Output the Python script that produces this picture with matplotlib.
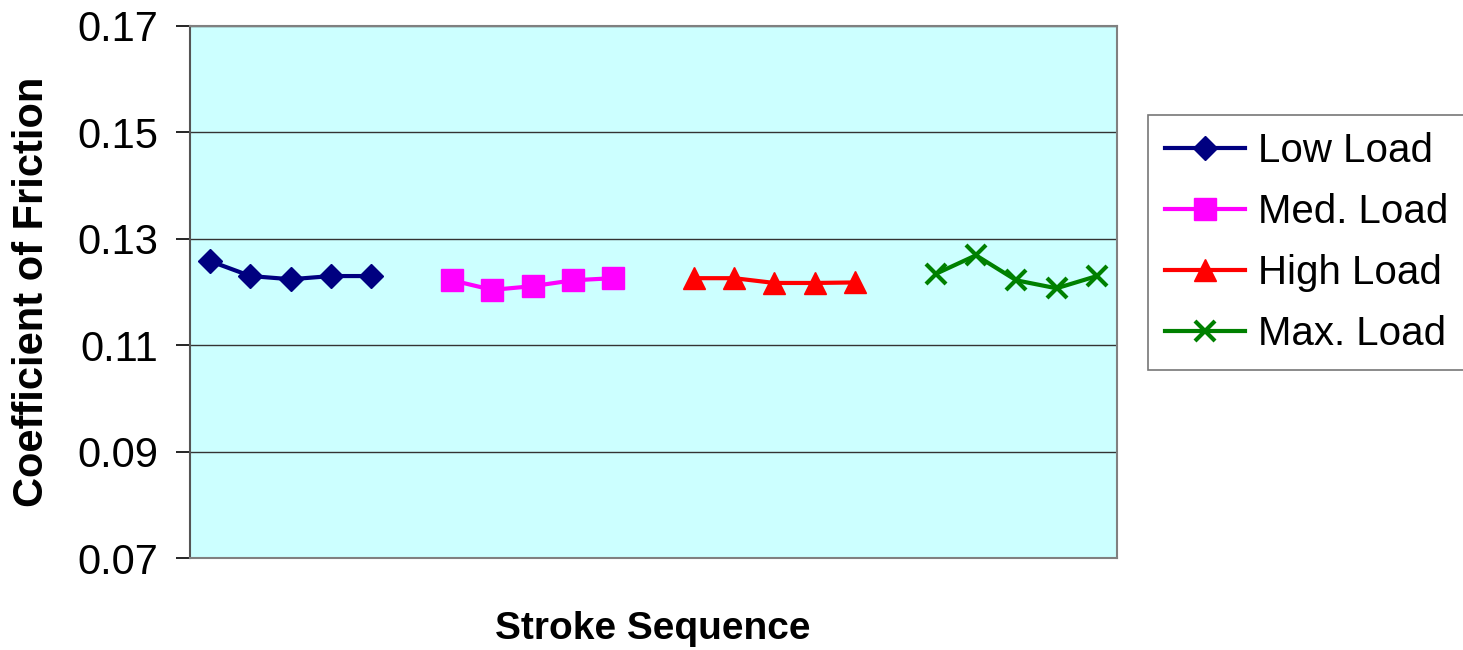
import numpy as np
import matplotlib.pyplot as plt

plt.rcParams['font.family'] = ['Liberation Sans', 'DejaVu Sans']

# data
low_load = [0.1258, 0.1230, 0.1224, 0.1230, 0.1230]
med_load = [0.1222, 0.1204, 0.1211, 0.1222, 0.1226]
high_load = [0.1226, 0.1226, 0.1217, 0.1217, 0.1218]
max_load = [0.1234, 0.1269, 0.1222, 0.1207, 0.1230]
labels = ["Low Load", "Med. Load", "High Load", "Max. Load"]
y_ticks = [0.07, 0.09, 0.11, 0.13, 0.15, 0.17]

fig = plt.figure(figsize=(14.63, 6.5), dpi=100)
ax = fig.add_axes([0.1299, 0.1415, 0.6336, 0.8185])
ax.set_facecolor("#CCFFFF")

# each series sits on its own run of category slots, one empty slot between
series = [low_load, med_load, high_load, max_load]
styles = [
    dict(color="#000080", marker="D", markersize=12),
    dict(color="#FF00FF", marker="s", markersize=16),
    dict(color="#FF0000", marker="^", markersize=16),
    dict(color="#008000", marker="x", markersize=15, markeredgewidth=3),
]
for k, (vals, lab, st) in enumerate(zip(series, labels, styles)):
    x = np.arange(len(vals)) + k * (len(vals) + 1)
    ax.plot(x, vals, "-", lw=3, label=lab, **st)

ax.set_xlim(-0.5, 22.5)
ax.set_ylim(0.07, 0.17)
ax.set_yticks(y_ticks)
ax.set_yticklabels(["%.2f" % v for v in y_ticks])
ax.set_xticks([])
ax.tick_params(axis="y", labelsize=30, length=10, width=1.2, direction="out", pad=13)
ax.grid(True, axis="y", color="#333333", lw=1)
ax.set_axisbelow(True)

for side in ["top", "right", "bottom"]:
    ax.spines[side].set_color("#808080")
    ax.spines[side].set_linewidth(1.5)
ax.spines["left"].set_color("#555555")
ax.spines["left"].set_linewidth(1.5)

ax.set_ylabel("Coefficient of Friction", fontsize=30, fontweight="bold")
ax.yaxis.set_label_coords(-0.1488, 0.5)
ax.set_xlabel("Stroke Sequence", fontsize=28, fontweight="bold")
ax.xaxis.set_label_coords(0.499, -0.099)

leg = fig.legend(loc="upper left", bbox_to_anchor=(0.7847, 0.823), fontsize=29,
                 frameon=True, fancybox=False, edgecolor="#555555",
                 handlelength=2.0, labelspacing=0.57, borderpad=0.42,
                 handletextpad=0.3, borderaxespad=0)
leg.get_frame().set_linewidth(1.2)

fig.savefig("out.png", dpi=100)
